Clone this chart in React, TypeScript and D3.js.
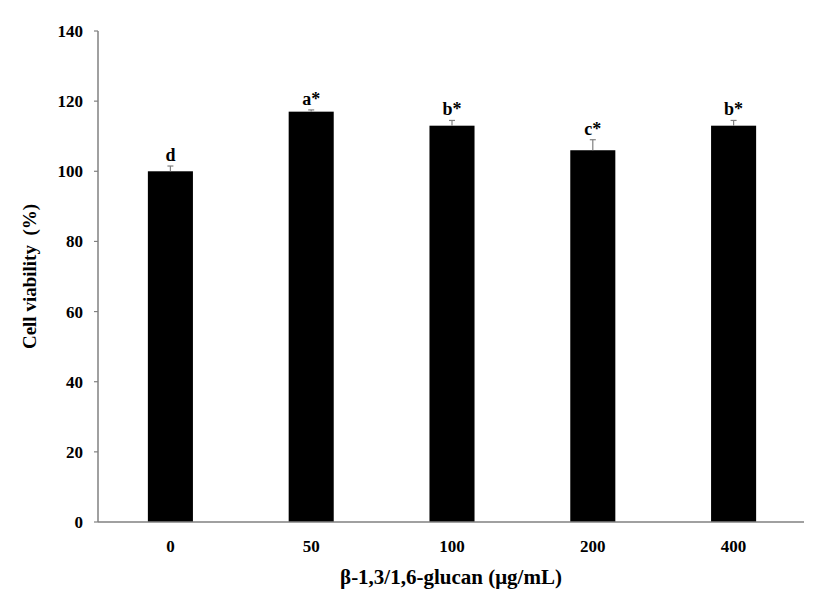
import React from "react";
import * as d3 from "d3";

const doses = ["0", "50", "100", "200", "400"];
const viability = [100, 117, 113, 106, 113];
const errors = [1.5, 0.5, 1.5, 3, 1.5];
const letters = ["d", "a*", "b*", "c*", "b*"];
const yTicks = [0, 20, 40, 60, 80, 100, 120, 140];

const W = 827;
const H = 602;
const left = 98;
const right = 804;
const top = 31;
const bottom = 522;
const font = "'Liberation Serif', 'Times New Roman', serif";
const axisColor = "#808080";

export default function App() {
  const x = d3
    .scaleBand<string>()
    .domain(doses)
    .range([left + 2, right])
    .paddingInner(0.68)
    .paddingOuter(0.34);
  const y = d3.scaleLinear().domain([0, 140]).range([bottom, top]);

  return (
    <svg width={W} height={H} style={{ position: "absolute", left: 0, top: 0, background: "#fff" }}>
      <g fontFamily={font} fontWeight="bold" fill="#000">
        {/* bars */}
        {doses.map((d, i) => (
          <rect key={d} x={x(d)} y={y(viability[i])} width={x.bandwidth()} height={bottom - y(viability[i])} fill="#000" />
        ))}
        {/* error bars */}
        {doses.map((d, i) => {
          const cx = (x(d) as number) + x.bandwidth() / 2;
          const yt = y(viability[i] + errors[i]);
          return (
            <g key={"e" + d} stroke={axisColor} strokeWidth={1.2}>
              <line x1={cx} x2={cx} y1={y(viability[i])} y2={yt} />
              <line x1={cx - 3} x2={cx + 3} y1={yt} y2={yt} />
            </g>
          );
        })}
        {/* significance letters */}
        {doses.map((d, i) => (
          <text key={"l" + d} x={(x(d) as number) + x.bandwidth() / 2} y={y(viability[i] + errors[i]) - 5} textAnchor="middle" fontSize={18}>
            {letters[i]}
          </text>
        ))}
        {/* y axis */}
        <line x1={left} x2={left} y1={top} y2={bottom} stroke={axisColor} strokeWidth={1.5} />
        {yTicks.map((t) => (
          <g key={"y" + t}>
            <line x1={left - 4} x2={left} y1={y(t)} y2={y(t)} stroke={axisColor} strokeWidth={1.2} />
            <text x={83} y={y(t) + 6} textAnchor="end" fontSize={17}>
              {t}
            </text>
          </g>
        ))}
        {/* x axis */}
        <line x1={left} x2={right} y1={bottom} y2={bottom} stroke={axisColor} strokeWidth={1.5} />
        {doses.map((d) => (
          <text key={"x" + d} x={(x(d) as number) + x.bandwidth() / 2} y={552} textAnchor="middle" fontSize={17}>
            {d}
          </text>
        ))}
        <text x={(left + right) / 2} y={584} textAnchor="middle" fontSize={21}>
          β-1,3/1,6-glucan (μg/mL)
        </text>
        <text transform={`translate(36, ${(top + bottom) / 2}) rotate(-90)`} textAnchor="middle" fontSize={19} style={{ whiteSpace: "pre" }}>
          {"Cell viability  (%)"}
        </text>
      </g>
    </svg>
  );
}
